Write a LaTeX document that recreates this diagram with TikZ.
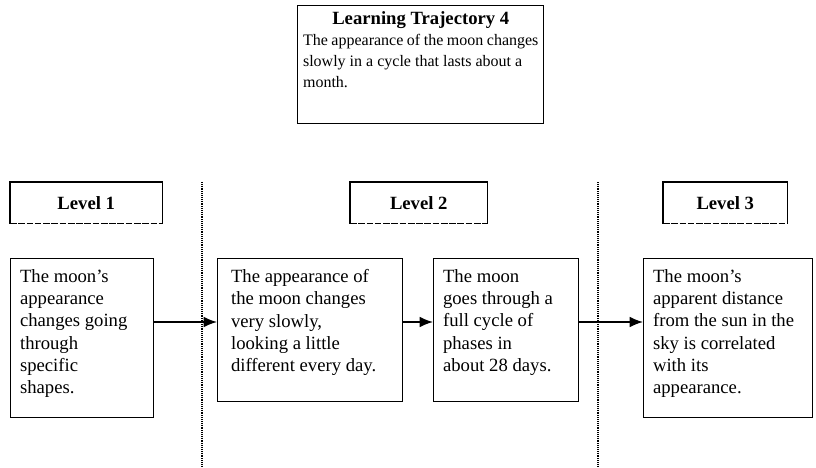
\documentclass[tikz,border=0pt]{standalone}
\usepackage{fontspec}
\setmainfont{Liberation Serif}
\usetikzlibrary{arrows.meta}

\tikzset{
  stagebox/.style={draw, line width=1.1pt, anchor=north west, inner xsep=7pt, inner ysep=8pt,
    font=\fontsize{14}{16.7}\selectfont},
  levelbox/.style={anchor=north west, inner sep=0pt, minimum height=30.75pt,
    font=\fontsize{14}{16.7}\selectfont\bfseries},
  levelside/.style={line width=1.1pt},
  levelbase/.style={line width=1.1pt, dash pattern=on 5pt off 1.2pt},
  flow/.style={line width=1.1pt, -{Latex[length=10pt,width=8pt]}},
  divider/.style={line width=0.8pt, dash pattern=on 0.7pt off 0.7pt}
}
\newcommand{\stagetext}[3]{\parbox[t][#2][t]{#1}{\raggedright #3}}

\begin{document}
\begin{tikzpicture}[x=0.75pt,y=-0.75pt]
  \useasboundingbox (0,0) rectangle (816,467);

  % trajectory
  \node[stagebox, inner ysep=4pt, inner xsep=4pt] (traj) at (297,5) {\stagetext{176.5pt}{80.5pt}{%
    {\centering\bfseries Learning Trajectory 4\par}
    \fontsize{12}{15.75}\selectfont
    The appearance of the moon changes\\ slowly in a cycle that lasts about a\\ month.}};

  % levels
  \node[levelbox, minimum width=114pt] (lev1) at (10,182) {Level 1};
  \node[levelbox, minimum width=102.75pt] (lev2) at (350,182) {Level 2};
  \node[levelbox, minimum width=93pt] (lev3) at (663,182) {Level 3};
  \draw[levelside] (lev1.south west) |- (lev1.north east) -- (lev1.south east);
  \draw[levelside] (lev2.south west) |- (lev2.north east) -- (lev2.south east);
  \draw[levelside] (lev3.south west) |- (lev3.north east) -- (lev3.south east);
  \draw[levelbase] (lev1.south west) -- (lev1.south east);
  \draw[levelbase] (lev2.south west) -- (lev2.south east);
  \draw[levelbase] (lev3.south west) -- (lev3.south east);

  % dividers
  \draw[divider] (202,182) -- (202,467);
  \draw[divider] (598,182) -- (598,467);

  % stages
  \node[stagebox] (s1) at (10,258) {\stagetext{93.25pt}{103.25pt}{%
    The moon's\\ appearance\\ changes going\\ through\\ specific\\ shapes.}};
  \node[stagebox, inner xsep=10pt] (s2) at (217,258) {\stagetext{118.75pt}{91.25pt}{%
    The appearance of\\ the moon changes\\ very slowly,\\ looking a little\\ different every day.}};
  \node[stagebox] (s3) at (433,258) {\stagetext{94.75pt}{91.25pt}{%
    The moon\\ goes through a\\ full cycle of\\ phases in\\ about 28 days.}};
  \node[stagebox] (s4) at (643,258) {\stagetext{112.75pt}{103.25pt}{%
    The moon's\\ apparent distance\\ from the sun in the\\ sky is correlated\\ with its\\ appearance.}};

  \draw[flow] (s1.east |- 0,322) -- (s2.west |- 0,322);
  \draw[flow] (s2.east |- 0,322) -- (s3.west |- 0,322);
  \draw[flow] (s3.east |- 0,322) -- (s4.west |- 0,322);
\end{tikzpicture}
\end{document}
